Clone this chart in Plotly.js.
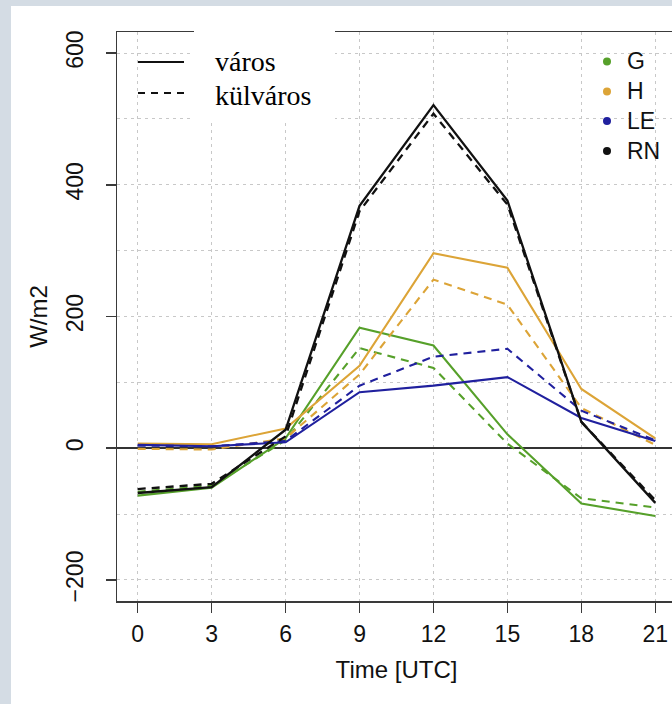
<!DOCTYPE html>
<html>
<head>
<meta charset="utf-8">
<script src="https://cdn.plot.ly/plotly-3.0.1.min.js"></script>
<style>
  html, body { margin:0; padding:0; width:672px; height:704px; overflow:hidden; background:#d4dce4; }
  #chart { position:absolute; left:11px; top:6px; width:667px; height:698px; }
</style>
</head>
<body>
<div id="chart"></div>
<script>
// ---- data ----
const hours = [0, 3, 6, 9, 12, 15, 18, 21];
const G_varos     = [-72, -60, 15, 183, 156, 21, -84, -103];
const G_kulvaros  = [-66, -57, 12, 152, 122, 7, -76, -90];
const H_varos     = [7, 6, 30, 125, 296, 274, 90, 15];
const H_kulvaros  = [-1, -2, 15, 112, 256, 218, 61, 5];
const LE_varos    = [5, 3, 9, 85, 95, 108, 46, 11];
const LE_kulvaros = [4, 3, 11, 95, 139, 151, 57, 12];
const RN_varos    = [-68, -59, 28, 368, 521, 376, 40, -83];
const RN_kulvaros = [-62, -54, 18, 360, 508, 370, 40, -79];

const fluxNames = ['G', 'H', 'LE', 'RN'];
const lineTypes = ['város', 'külváros'];
const xTickVals = [0, 3, 6, 9, 12, 15, 18, 21];
const yTickVals = [-200, 0, 200, 400, 600];

const colors = {G:'#56a02a', H:'#dca437', LE:'#20209e', RN:'#111111'};
const series = {
  G: [G_varos, G_kulvaros],
  H: [H_varos, H_kulvaros],
  LE: [LE_varos, LE_kulvaros],
  RN: [RN_varos, RN_kulvaros]
};

const traces = [];
fluxNames.forEach(f => {
  [0, 1].forEach(k => {
    traces.push({
      x: hours, y: series[f][k], type:'scatter', mode:'lines',
      name: f + ' ' + lineTypes[k], showlegend:false, hoverinfo:'skip',
      line: {color: colors[f], width: f === 'RN' ? 2.3 : 2.1, dash: k === 0 ? 'solid' : '8px,6px'}
    });
  });
});

// pixel -> paper helpers (plot area: 117..676 x, 32..601.3 y in page px)
const PL = 117, PW = 559, PT = 32, PH = 569.3;
const px = v => (v - PL) / PW;
const py = v => (PT + PH - v) / PH;

const shapes = [
  {type:'rect', xref:'paper', yref:'paper', x0:px(194), x1:px(335), y0:py(123), y1:py(26),
   fillcolor:'#ffffff', line:{width:0}, layer:'above'},
  {type:'line', xref:'paper', yref:'paper', x0:px(138), x1:px(184), y0:py(62), y1:py(62),
   line:{color:'#111', width:2}, layer:'above'},
  {type:'line', xref:'paper', yref:'paper', x0:px(138), x1:px(184), y0:py(93), y1:py(93),
   line:{color:'#111', width:2, dash:'7px,6px'}, layer:'above'}
];
const legendY = [61.5, 91.5, 121, 151];
fluxNames.forEach((f, i) => {
  shapes.push({type:'circle', xref:'paper', yref:'paper', xsizemode:'pixel', ysizemode:'pixel',
    xanchor:px(607), yanchor:py(legendY[i]), x0:-4, x1:4, y0:-4, y1:4,
    fillcolor:colors[f], line:{width:0}, layer:'above'});
});

const annotations = [
  {xref:'paper', yref:'paper', x:px(213), y:py(62), xanchor:'left', yanchor:'middle', showarrow:false,
   text:lineTypes[0], font:{family:'Liberation Serif, Times New Roman, serif', size:28, color:'#000'}},
  {xref:'paper', yref:'paper', x:px(213), y:py(96), xanchor:'left', yanchor:'middle', showarrow:false,
   text:lineTypes[1], font:{family:'Liberation Serif, Times New Roman, serif', size:28, color:'#000'}}
];
fluxNames.forEach((f, i) => {
  annotations.push({xref:'paper', yref:'paper', x:px(625), y:py(legendY[i]), xanchor:'left', yanchor:'middle',
    showarrow:false, text:f, font:{family:'Liberation Sans, Arial, sans-serif', size:23, color:'#111'}});
});

const gridStyle = {gridcolor:'#c8c8c8', griddash:'3px,4px', gridwidth:1};

const layout = {
  width: 667, height: 698,
  margin: {l:106, r:2, t:26, b:103},
  paper_bgcolor:'#ffffff', plot_bgcolor:'#ffffff',
  showlegend:false,
  font:{family:'Liberation Sans, Arial, sans-serif', size:23, color:'#111'},
  xaxis: Object.assign({
    range:[-0.84, 21.84], tickmode:'array', tickvals:xTickVals, ticktext:xTickVals.map(String),
    showgrid:true, zeroline:false,
    showline:true, mirror:true, linecolor:'#3a3a3a', linewidth:1.5,
    ticks:'outside', ticklen:10, tickwidth:1.5, tickcolor:'#3a3a3a',
    ticklabelstandoff:2,
    tickfont:{size:23, color:'#111'},
    title:{text:'Time [UTC]', font:{size:24, color:'#111'}, standoff:15}
  }, gridStyle),
  yaxis: Object.assign({
    range:[-232, 632], tickmode:'array', tickvals:yTickVals, ticktext:yTickVals.map(v => v < 0 ? '\u2212' + Math.abs(v) : String(v)),
    tickangle:-90, ticklabelstandoff:13,
    showgrid:true,
    minor:{tickmode:'linear', tick0:0, dtick:100, showgrid:true, gridcolor:'#c8c8c8', griddash:'3px,4px', gridwidth:1, ticks:''},
    zeroline:true, zerolinecolor:'#333', zerolinewidth:1.5,
    showline:true, mirror:true, linecolor:'#3a3a3a', linewidth:1.5,
    ticks:'outside', ticklen:10, tickwidth:1.5, tickcolor:'#3a3a3a',
    tickfont:{size:23, color:'#111'},
    title:{text:'W/m2', font:{size:24, color:'#111'}, standoff:8}
  }, gridStyle),
  shapes: shapes,
  annotations: annotations
};

Plotly.newPlot('chart', traces, layout, {displayModeBar:false, staticPlot:true});
</script>
</body>
</html>
